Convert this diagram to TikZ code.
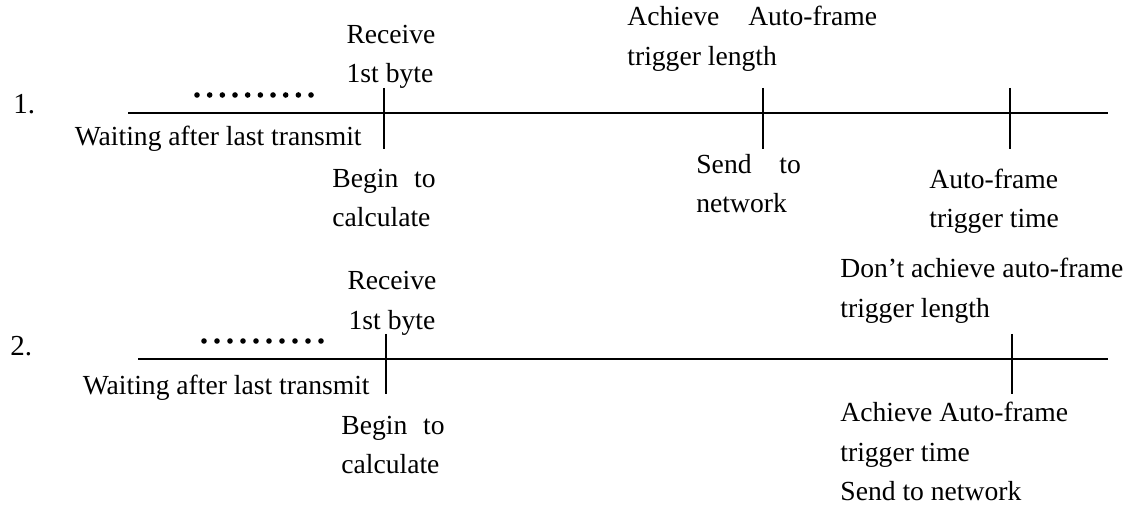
\documentclass[tikz,border=0pt]{standalone}
\usepackage{fontspec}
\setmainfont{Liberation Serif}
\begin{document}
\begin{tikzpicture}[x=0.5pt,y=-0.5pt,
  lbl/.style={inner sep=0pt,font=\fontsize{13.8}{16}\selectfont},
  numlbl/.style={inner sep=0pt,font=\fontsize{14.5}{17}\selectfont},
  timeline/.style={line width=1.1pt},
  tickline/.style={line width=0.65pt},
  waitdot/.style={fill=black}]
\useasboundingbox (0,0) rectangle (1132,506);

% ---------- Case 1 ----------
\draw[timeline] (128,113) -- (1108,113);
\foreach \x in {384,763,1010} \draw[tickline] (\x,88) -- (\x,149);
\foreach \i in {0,...,9} \fill[waitdot] ({197+12.67*\i},95) circle (2.8);

\node[numlbl,anchor=base west] (one) at (13,114) {1.};
\node[lbl,anchor=base] (a1) at (391,44) {Receive};
\node[lbl,anchor=base] (a2) at (390,83) {1st byte};
\node[lbl,anchor=base west] (b1) at (627,26) {Achieve\hspace{11pt} Auto-frame};
\node[lbl,anchor=base west] (b2) at (627,66) {trigger length};
\node[lbl,anchor=base east] (w1) at (362,146) {Waiting after last transmit};
\node[lbl,anchor=base west] (c1) at (332,188) {Begin\hspace{4.5pt} to};
\node[lbl,anchor=base west] (c2) at (332,227) {calculate};
\node[lbl,anchor=base west] (d1) at (696,174) {Send\hspace{10.5pt} to};
\node[lbl,anchor=base west] (d2) at (696,213) {network};
\node[lbl,anchor=base west] (e1) at (929,189) {Auto-frame};
\node[lbl,anchor=base west] (e2) at (929,228) {trigger time};

% ---------- Case 2 ----------
\draw[timeline] (138,359) -- (1108,359);
\foreach \x in {386,1012} \draw[tickline] (\x,334) -- (\x,394);
\foreach \i in {0,...,9} \fill[waitdot] ({204+13*\i},341) circle (2.8);

\node[numlbl,anchor=base west] (two) at (10,356) {2.};
\node[lbl,anchor=base] (f1) at (392,290) {Receive};
\node[lbl,anchor=base] (f2) at (392,330) {1st byte};
\node[lbl,anchor=base west] (g1) at (840,278) {Don’t achieve auto-frame};
\node[lbl,anchor=base west] (g2) at (840,318) {trigger length};
\node[lbl,anchor=base east] (w2) at (370,395) {Waiting after last transmit};
\node[lbl,anchor=base west] (h1) at (341,435) {Begin\hspace{4.5pt} to};
\node[lbl,anchor=base west] (h2) at (341,474) {calculate};
\node[lbl,anchor=base west] (k1) at (840,422) {Achieve Auto-frame};
\node[lbl,anchor=base west] (k2) at (840,462) {trigger time};
\node[lbl,anchor=base west] (k3) at (840,501) {Send to network};
\end{tikzpicture}
\end{document}
